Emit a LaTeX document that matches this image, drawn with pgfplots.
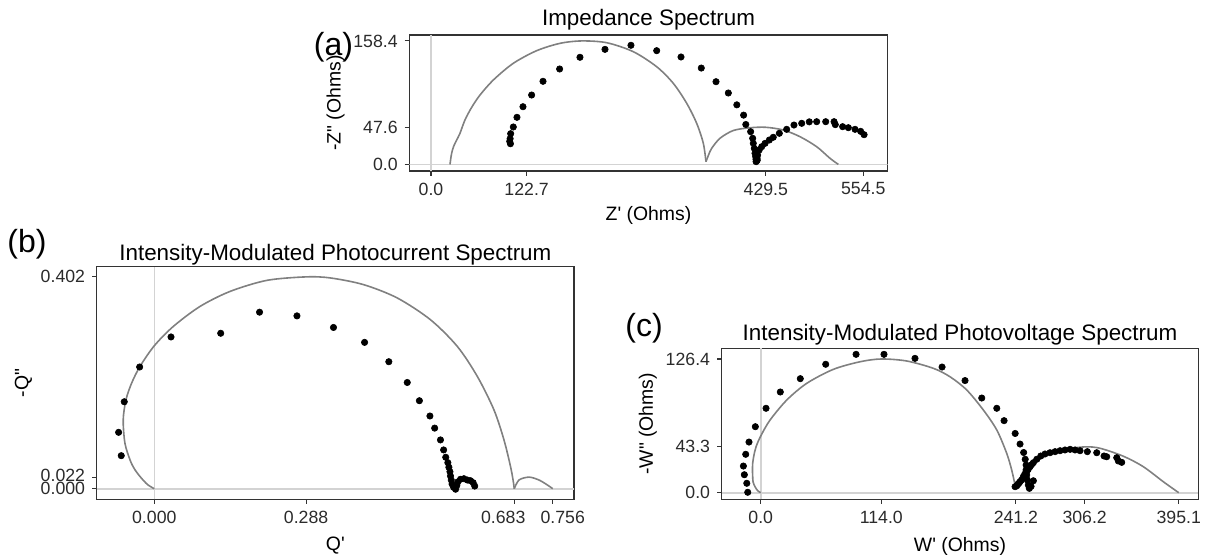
\documentclass[border=0pt]{standalone}
\usepackage{fontspec}
\setmainfont{Liberation Sans}
\usepackage{pgfplots}
\pgfplotsset{compat=1.18}

\definecolor{fitgray}{HTML}{808080}
\definecolor{zerogray}{HTML}{D3D3D3}
\definecolor{framegray}{HTML}{333333}
\definecolor{ticktext}{HTML}{2B2B2B}

\newcommand{\tickfont}{\fontsize{8.85}{10}\selectfont}
\newcommand{\labfont}{\fontsize{9.7}{11}\selectfont}
\newcommand{\titfont}{\fontsize{11.2}{13}\selectfont}
\newcommand{\panfont}{\fontsize{16}{18}\selectfont}

\pgfplotsset{
  nyquist/.style={
    scale only axis,
    anchor=south west,
    axis line style={framegray, line width=0.6pt},
    tick align=outside,
    xtick pos=bottom, ytick pos=left,
    major tick length=2.3pt,
    every tick/.style={framegray, line width=0.55pt},
    ticklabel style={font=\tickfont, text=ticktext},
    label style={font=\labfont},
    ylabel shift=-2.5pt,
    /pgf/number format/assume math mode=true,
  },
  fitline/.style={fitgray, line width=0.8pt, smooth, mark=none},
  datapts/.style={only marks, mark=*, mark size=1.6pt, mark options={fill=black, draw=black, line width=0.3pt}},
  zeroline/.style={zerogray, line width=0.8pt, mark=none},
}

\begin{document}
\begin{tikzpicture}

% ---------------- (a) Impedance spectrum ----------------
\begin{axis}[nyquist,
  at={(204.65pt,191.5pt)}, width=239.2pt, height=68pt,
  xmin=-27.8, xmax=585.8, ymin=-8.47, ymax=166.0,
  xtick={0,122.7,429.5,554.5}, xticklabels={0.0,122.7,429.5,554.5},
  ytick={0,47.6,158.4}, yticklabels={0.0,47.6,158.4},
  xlabel={Z\textquotesingle{} (Ohms)}, ylabel={-Z\textquotedbl{} (Ohms)},
  xlabel shift=-1pt,
]
\addplot[zeroline] coordinates {(-27.8,0) (585.8,0)};
\addplot[zeroline] coordinates {(0,-8.47) (0,166.0)};
\addplot[fitline] coordinates {
 (24.4,0) (25.2,6) (26.5,14.2) (29,23) (33,31.3) (37.2,39.9) (43.6,57)
 (52.2,73.2) (62.9,89) (80,108.3) (105.6,129.7) (135.6,145.9) (165.5,155.3)
 (193.3,158.4) (225.4,156.1) (259.5,144.6) (289.5,125.3) (310.8,104)
 (328,78.4) (340.8,52.7) (349.3,27.1) (352.7,3.5)};
\addplot[fitline] coordinates {
 (352.7,3.5) (356,12) (360,20.6) (370.7,33.5) (387.8,43.5) (409.2,47.0)
 (429.5,47.6) (452,44.1) (473.4,35.5) (494.7,22.7) (511.8,7.8) (522.5,0)};
\addplot[datapts] coordinates {
 (101.9,26.5) (101.0,29.5) (101.5,33.0) (102.2,39.4) (105.6,48.0) (110.3,60.4)
 (118.0,74.0) (129.1,89.0) (143.7,106.6) (165.0,122.4) (191.1,137.4)
 (223.2,147.6) (256.5,152.8) (289.5,145.9) (320.7,137.8) (346.7,123.6)
 (365.6,106.1) (381.4,91.6) (392.3,76.4) (401.0,63.2) (403.8,51.2)
 (410.0,42.0) (412.6,33.5) (413.4,27.1) (414.7,20.6) (415.6,14.2)
 (416.5,9.9) (416.9,6.5) (417.8,4.7) (417.0,3.5) (418.5,5.5) (418.2,8.0)
 (419.0,12.0) (421.0,18.5) (424.2,22.7) (428.5,27.0) (434.0,31.3)
 (439.0,34.8) (446.8,39.9) (456.2,45.0) (465.6,50.5) (475.5,52.7)
 (485.2,54.6) (494.7,54.8) (506.3,54.8) (517.0,54.8) (518.6,51.0)
 (528.0,48.4) (535.3,47.1) (543.9,45.0) (551.1,42.4) (555.5,38.1)};
\end{axis}

% ---------------- (b) IMPS ----------------
\begin{axis}[nyquist,
  at={(48.35pt,27.35pt)}, width=238.65pt, height=116.3pt,
  xmin=-0.1093, xmax=0.7964, ymin=-0.0201, ymax=0.4213,
  xtick={0,0.288,0.683,0.756},
  xticklabels={0.000,0.288,0.683\hspace*{11pt},\hspace*{10pt}0.756},
  ytick={0,0.022,0.402},
  yticklabels={\raisebox{-2pt}{0.000},\raisebox{2pt}{0.022},0.402},
  xlabel={Q\textquotesingle}, ylabel={-Q\textquotedbl},
]
\addplot[zeroline] coordinates {(-0.1093,0) (0.7964,0)};
\addplot[zeroline] coordinates {(0,-0.0201) (0,0.4213)};
\addplot[fitline] coordinates {
 (0,0) (-0.013,0.008) (-0.027,0.023) (-0.038,0.038) (-0.046,0.0545)
 (-0.0557,0.0863) (-0.059,0.1306) (-0.0538,0.1686) (-0.043,0.2004)
 (-0.0272,0.232) (0,0.2713) (0.0361,0.308) (0.0869,0.346) (0.144,0.3745)
 (0.2137,0.3954) (0.288,0.402) (0.334,0.400) (0.397,0.3873) (0.461,0.362)
 (0.524,0.3207) (0.575,0.270) (0.613,0.213) (0.6445,0.1496) (0.6635,0.0926)
 (0.676,0.0418) (0.681,0.015) (0.683,0)};
\addplot[fitline] coordinates {
 (0.683,0) (0.692,0.0165) (0.711,0.022) (0.730,0.0165) (0.746,0.007) (0.756,0)};
\addplot[datapts] coordinates {
 (-0.0627,0.0627) (-0.0677,0.107) (-0.057,0.165) (-0.0278,0.231)
 (0.0317,0.288) (0.126,0.295) (0.1997,0.335) (0.2707,0.328) (0.340,0.306)
 (0.399,0.2777) (0.445,0.241) (0.480,0.2016) (0.503,0.167) (0.523,0.138)
 (0.532,0.115) (0.543,0.0926) (0.549,0.0736) (0.553,0.0597) (0.557,0.0494)
 (0.559,0.0407) (0.561,0.0323) (0.562,0.0241) (0.5635,0.0165)
 (0.565,0.0089) (0.568,0.0027) (0.5717,-0.001) (0.574,0.006) (0.576,0.013)
 (0.581,0.0179) (0.5875,0.019) (0.594,0.0165) (0.600,0.0152)
 (0.605,0.0114) (0.608,0.005)};
\end{axis}

% ---------------- (c) IMVS ----------------
\begin{axis}[nyquist,
  at={(360.85pt,27.35pt)}, width=238.3pt, height=75.5pt,
  xmin=-36.9, xmax=413.6, ymin=-6.24, ymax=136.5,
  xtick={0,114.0,241.2,306.2,395.1}, xticklabels={0.0,114.0,241.2,306.2,395.1},
  ytick={0,43.3,126.4}, yticklabels={0.0,43.3,126.4},
  xlabel={W\textquotesingle{} (Ohms)}, ylabel={-W\textquotedbl{} (Ohms)},
]
\addplot[zeroline] coordinates {(-36.9,0) (413.6,0)};
\addplot[zeroline] coordinates {(0,-6.24) (0,136.5)};
\addplot[fitline] coordinates {
 (0,0) (-3,2) (-5.4,5.7) (-7.2,10) (-7.6,15.1) (-7.8,21) (-7.6,27.8)
 (-6.5,35) (-4.4,43.5) (0,53.6) (8.8,68.7) (24.6,87.6) (43.5,103.4)
 (68.6,116.6) (93.9,123.8) (114,126.4) (138,124.5) (163.1,117.6)
 (178.9,109.6) (194.7,97.1) (210.4,78.2) (223.1,59.3) (232.5,37.2)
 (237.2,21.5) (240.4,7.3) (241.2,5.5)};
\addplot[fitline] coordinates {
 (241.2,5.5) (246.7,15.1) (254.5,24.6) (267.1,34) (282.9,40.4) (306.2,43.3)
 (320.7,42) (342.7,34.5) (361.6,24.6) (380.5,10.4) (395.1,0)};
\addplot[datapts] coordinates {
 (-12.3,0.4) (-13.2,8.9) (-15.5,17) (-16.4,25.2) (-14.2,36.3) (-11.1,47.9)
 (-5.1,62.4) (5,79.8) (18.5,95.2) (37.4,107.8) (61.4,121.4) (90.1,130.8)
 (116.5,130.8) (145.8,127) (171.4,118.8) (193.1,106) (208.9,89.5)
 (223.1,79.8) (230,68.1) (240.5,56) (245.1,46) (248.5,38) (250,31.6)
 (250.8,26.2) (250.8,21.5) (251.4,16.7) (252,12) (252.9,7.3) (253.9,4.1)
 (255.5,6) (257.7,11.3)
 (240.4,5.7) (242,6.5) (243,8) (244,9) (245.1,10.4) (246.5,12)
 (248.2,15.1) (249.5,17.5) (251.4,19.8) (252.8,22) (254.5,24.6) (256,26.5)
 (257.7,28.4) (260.9,31.6) (264.7,34.7) (268.7,36.6) (273.4,37.8)
 (278.2,38.8) (282.9,39.7) (287.6,40.4) (292.4,41) (297.1,40.4)
 (301.8,39.7) (308.7,38.8) (317.6,37.8) (324.5,34.7) (327,34) (336.5,33.1)
 (338,30) (341.2,28.7)};
\end{axis}

% titles and panel tags
\node[anchor=base, font=\titfont] at (324.25pt,264.5pt) {Impedance Spectrum};
\node[anchor=base, font=\panfont] at (166.75pt,249.5pt) {(a)};
\node[anchor=base, font=\titfont] at (167.7pt,147pt) {Intensity-Modulated Photocurrent Spectrum};
\node[anchor=base, font=\panfont] at (13.5pt,150.75pt) {(b)};
\node[anchor=base, font=\titfont] at (480pt,107pt) {Intensity-Modulated Photovoltage Spectrum};
\node[anchor=base, font=\panfont] at (322pt,109pt) {(c)};

\pgfresetboundingbox
\useasboundingbox (0,0) rectangle (603pt,277pt);
\end{tikzpicture}
\end{document}
